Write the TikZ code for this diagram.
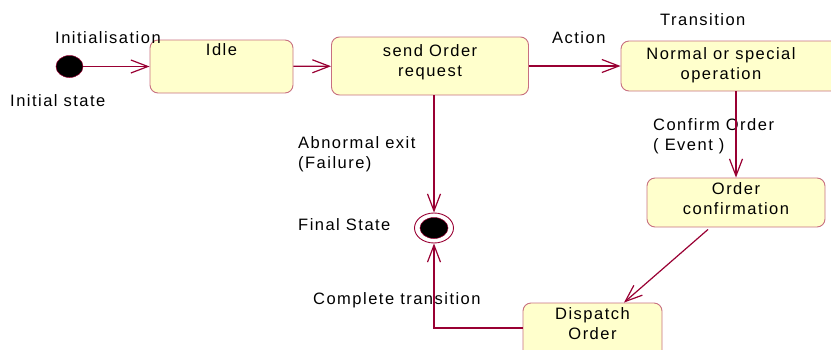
\documentclass[tikz,border=0pt]{standalone}
\usepackage{fontspec}
\setmainfont[LetterSpace=9]{Liberation Sans}
\usepackage{tikz}
\usetikzlibrary{calc, arrows.meta, shapes.geometric}
\definecolor{sfill}{HTML}{FFFFCC}
\definecolor{sborder}{HTML}{C87080}
\definecolor{sline}{HTML}{990033}

\begin{document}
\begin{tikzpicture}[x=1pt, y=-1pt,
    every node/.style={font=\fontsize{16.5}{20}\selectfont, inner sep=0pt},
    STATE/.style={draw=sborder, fill=sfill, line width=0.9pt, rounded corners=8pt, rectangle},
    TXT/.style={anchor=north, align=center},
    LBL/.style={anchor=west, align=left},
    TR/.style={draw=sline, line width=1.2pt, -{Straight Barb[length=17pt, width=13pt, line width=1.2pt]}}
    ]
        \useasboundingbox (0,0) rectangle (831,349);
        % states
        \node[STATE, minimum width=143pt, minimum height=53pt] (idle) at (221.5,66.5) {};
        \node[TXT] (idle-t) at ($(idle.north)+(0,4)$) {Idle};
        \node[STATE, minimum width=197pt, minimum height=58pt] (send) at (430,66) {};
        \node[TXT] (send-t) at ($(send.north)+(0,8)$) {send Order\\request};
        \node[STATE, minimum width=220pt, minimum height=50pt] (norm) at (731,66) {};
        \node[TXT] (norm-t) at ($(norm.north)+(-10,7)$) {Normal or special\\operation};
        \node[STATE, minimum width=178pt, minimum height=49pt] (conf) at (736,202.5) {};
        \node[TXT] (conf-t) at ($(conf.north)+(0,5)$) {Order\\confirmation};
        \node[STATE, minimum width=139pt, minimum height=60pt] (disp) at (592.5,333) {};
        \node[TXT] (disp-t) at ($(disp.north)+(0,5)$) {Dispatch\\Order};
        % pseudo states
        \node[ellipse, fill=black, draw=sline, line width=0.5pt, minimum width=27pt, minimum height=22pt] (init) at (69.5,66.5) {};
        \node[ellipse, draw=sline, line width=0.9pt, minimum width=39pt, minimum height=30pt] (final) at (434,228) {};
        \node[ellipse, fill=black, draw=sline, line width=0.5pt, minimum width=28pt, minimum height=21pt] (final-in) at (final) {};
        % labels
        \node[LBL] (l-init) at (55,38) {Initialisation};
        \node[LBL] (l-initst) at (10,101) {Initial state};
        \node[LBL] (l-act) at (552,38) {Action};
        \node[LBL] (l-tr) at (660,20) {Transition};
        \node[LBL] (l-abn) at (298,154) {Abnormal exit\\(Failure)};
        \node[LBL] (l-fin) at (298,225) {Final State};
        \node[LBL] (l-comp) at (313,300) {Complete transition};
        \node[LBL] (l-conf) at (653,136) {Confirm Order\\( Event )};
        % transitions
        \draw[TR] (init) -- (idle);
        \draw[TR] (idle) -- (send);
        \draw[TR] (send.east) -- (norm.west);
        \draw[TR] (send.south -| final) -- (final.north);
        \draw[TR] (norm.south -| conf) -- (conf.north);
        \draw[TR] ($(conf.south)+(-28,2)$) -- ($(disp.north)+(31.5,0)$);
        \draw[TR] ($(disp.west)+(0,-5)$) -| (final.south);
    \end{tikzpicture}
\end{document}
